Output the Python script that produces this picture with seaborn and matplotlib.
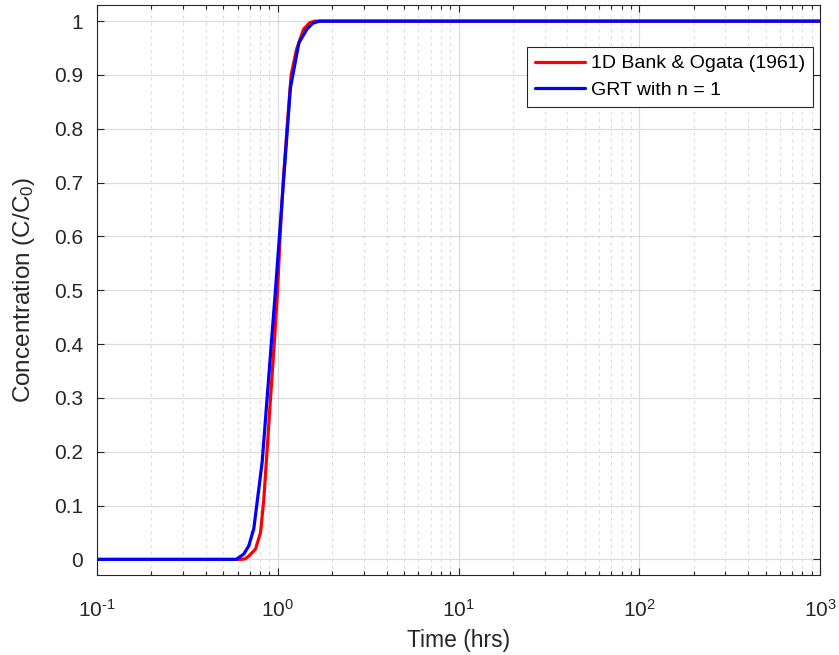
import matplotlib
matplotlib.use("Agg")
import matplotlib.pyplot as plt
import seaborn as sns
import pandas as pd
import numpy as np
from matplotlib.ticker import LogLocator

# ---- data ----
t_bank = [0.1, 0.62, 0.66, 0.691, 0.753, 0.803, 0.837, 0.872, 0.912, 0.956, 0.998, 1.03,
          1.071, 1.125, 1.186, 1.269, 1.39, 1.50, 1.6, 1000]
c_bank = [0.0, 0.0, 0.001, 0.006, 0.019, 0.05, 0.111, 0.2, 0.3, 0.4, 0.5, 0.6,
          0.7, 0.8, 0.9, 0.947, 0.985, 0.997, 1.0, 1.0]

t_grt = [0.1, 0.59, 0.649, 0.691, 0.737, 0.820, 0.971, 1.175, 1.31, 1.45, 1.56, 1.70, 1000]
c_grt = [0.0, 0.0, 0.01, 0.025, 0.057, 0.181, 0.5, 0.876, 0.96, 0.985, 0.996, 1.0, 1.0]

series_names = ["1D Bank & Ogata (1961)", "GRT with n = 1"]
series_colors = ["#ff0000", "#0000ff"]
y_ticks = [0, 0.1, 0.2, 0.3, 0.4, 0.5, 0.6, 0.7, 0.8, 0.9, 1.0]
y_tick_labels = ["0", "0.1", "0.2", "0.3", "0.4", "0.5", "0.6", "0.7", "0.8", "0.9", "1"]
x_ticks = [0.1, 1, 10, 100, 1000]
x_tick_labels = ["$10^{\\text{-1}}$", "$10^{0}$", "$10^{1}$", "$10^{2}$", "$10^{3}$"]

df = pd.concat([
    pd.DataFrame({"Time": t_bank, "C": c_bank, "Model": series_names[0]}),
    pd.DataFrame({"Time": t_grt, "C": c_grt, "Model": series_names[1]}),
], ignore_index=True)

sns.set_style("ticks")
plt.rcParams["font.family"] = ["Liberation Sans", "DejaVu Sans"]
plt.rcParams["mathtext.fontset"] = "custom"
plt.rcParams["mathtext.rm"] = "Liberation Sans"
plt.rcParams["mathtext.sf"] = "Liberation Sans"
plt.rcParams["mathtext.it"] = "Liberation Sans"
plt.rcParams["mathtext.bf"] = "Liberation Sans:bold"

txt = "#262626"
fig = plt.figure(figsize=(8.39, 6.55), dpi=100)
ax = fig.add_axes([97/839, 1-575/655, (820-97)/839, (575-5)/655])

sns.lineplot(data=df, x="Time", y="C", hue="Model", palette=series_colors,
             hue_order=series_names, estimator=None, sort=False, lw=2.3, ax=ax)

ax.set_xscale("log")
ax.set_xlim(0.1, 1000)
ax.set_ylim(-0.029, 1.03)
ax.set_yticks(y_ticks)
ax.set_yticklabels(y_tick_labels)
ax.set_xticks(x_ticks)
ax.set_xticklabels(x_tick_labels)
ax.xaxis.set_minor_locator(LogLocator(base=10, subs=np.arange(2, 10), numticks=100))

ax.grid(True, which="major", axis="both", color="#dcdcdc", lw=0.9, ls="-")
ax.grid(True, which="minor", axis="x", color="#e0e0e0", lw=0.9, ls=(0, (2.5, 3)))
ax.set_axisbelow(True)

ax.tick_params(which="both", direction="in", top=True, right=True, colors=txt,
               labelsize=15, width=0.8)
ax.tick_params(which="major", length=5)
ax.tick_params(which="minor", length=3)
ax.tick_params(axis="x", which="major", pad=17)
ax.tick_params(axis="y", pad=10)
for s in ax.spines.values():
    s.set_color(txt)
    s.set_linewidth(0.8)

ax.set_xlabel("Time (hrs)", fontsize=16.5, color=txt, labelpad=6)
ax.set_ylabel("Concentration (C/C$_0$)", fontsize=17.5, color=txt, labelpad=12)

leg = ax.legend(loc="upper right", bbox_to_anchor=((813-97)/723, 1-(47-5)/570), fontsize=14,
                frameon=True, fancybox=False, edgecolor=txt, framealpha=1,
                handlelength=2.6, borderpad=0.4, labelspacing=0.45, handletextpad=0.3,
                borderaxespad=0)
leg.get_frame().set_linewidth(0.8)
for t in leg.get_texts():
    t.set_color("black")

fig.savefig("out.png", dpi=100)
